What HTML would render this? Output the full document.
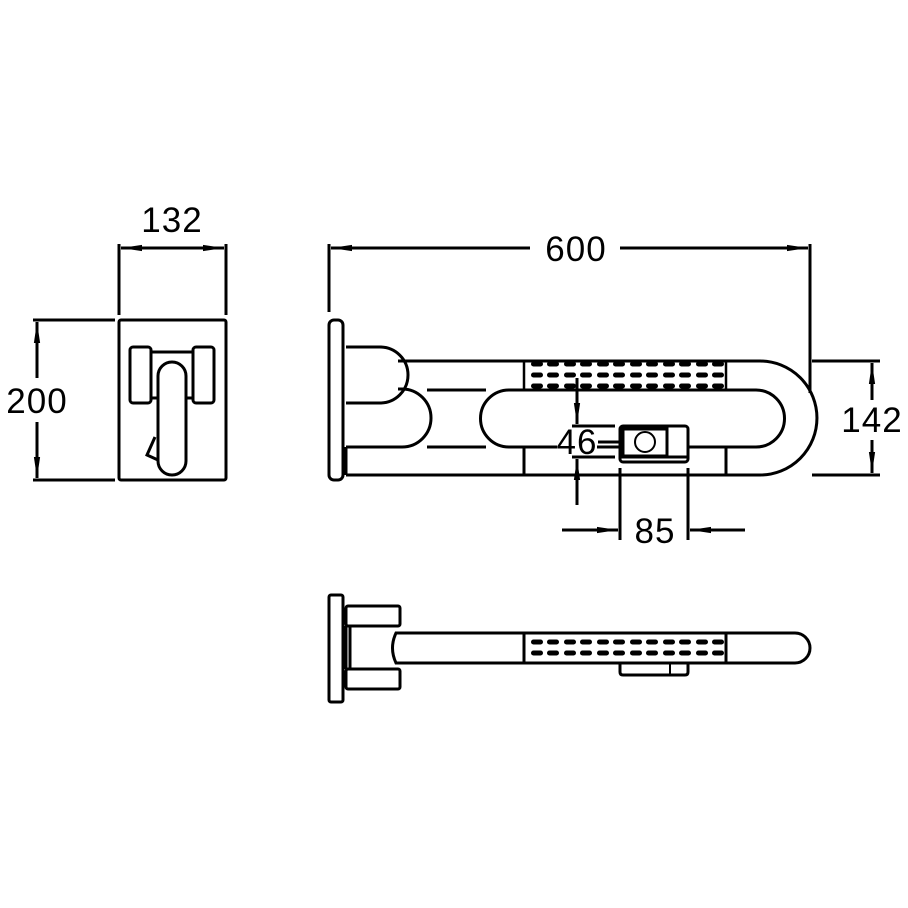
<!DOCTYPE html>
<html><head><style>body{margin:0;background:#fff}svg{display:block}text{font-family:"Liberation Sans",sans-serif;font-size:35px;fill:#000;text-anchor:middle;letter-spacing:1px}</style></head><body>
<svg width="908" height="908" viewBox="0 0 908 908" fill="none" stroke="#000" stroke-width="3">
<defs>
<marker id="a" viewBox="0 0 10 10" refX="10" refY="5" markerWidth="7" markerHeight="2.6" preserveAspectRatio="none" orient="auto-start-reverse"><path d="M0 1L10 5L0 9z" fill="#000" stroke="none"/></marker>
<g id="dot"><rect x="-6" y="-2.5" width="12" height="5" rx="2.5" fill="#000" stroke="none"/></g>
<g id="row"><use href="#dot" x="537"/><use href="#dot" x="553"/><use href="#dot" x="570"/><use href="#dot" x="586"/><use href="#dot" x="603"/><use href="#dot" x="619"/><use href="#dot" x="636"/><use href="#dot" x="652"/><use href="#dot" x="669"/><use href="#dot" x="685"/><use href="#dot" x="702"/><use href="#dot" x="718"/></g>
</defs>
<!-- left view -->
<line x1="119" y1="244" x2="119" y2="315"/><line x1="226" y1="244" x2="226" y2="315"/>
<line x1="121" y1="248" x2="224" y2="248" marker-start="url(#a)" marker-end="url(#a)"/>
<text x="172" y="232" stroke="none">132</text>
<line x1="33" y1="320" x2="115" y2="320"/><line x1="33" y1="480" x2="115" y2="480"/>
<line x1="37" y1="322" x2="37" y2="378" marker-start="url(#a)"/>
<line x1="37" y1="422" x2="37" y2="478" marker-end="url(#a)"/>
<text x="37" y="413" stroke="none">200</text>
<rect x="119" y="320" width="107" height="160" rx="2"/>
<rect x="130" y="347" width="21" height="56" rx="3"/><rect x="193" y="347" width="21" height="56" rx="3"/>
<line x1="151" y1="352" x2="193" y2="352"/><line x1="151" y1="398" x2="159" y2="398"/><line x1="185" y1="398" x2="193" y2="398"/>
<rect x="158" y="362" width="28" height="113" rx="14" fill="#fff"/>
<path d="M155 437L147 455L158 460"/>
<!-- main view -->
<line x1="329" y1="244" x2="329" y2="312"/><line x1="810" y1="244" x2="810" y2="393"/>
<line x1="331" y1="248" x2="530" y2="248" marker-start="url(#a)"/>
<line x1="620" y1="248" x2="808" y2="248" marker-end="url(#a)"/>
<text x="576" y="261" stroke="none">600</text>
<rect x="329" y="320" width="14" height="160" rx="5"/>
<path d="M346 347H380A28 28 0 0 1 380 403H346"/>
<path d="M398 389H402A29 29 0 0 1 402 447H346"/>
<line x1="346" y1="447" x2="346" y2="475"/>
<line x1="346" y1="475" x2="760" y2="475"/>
<path d="M398 361H760A57 57 0 0 1 760 475"/>
<path d="M509 390H756A28.5 28.5 0 0 1 756 447H509A28.5 28.5 0 0 1 509 390Z"/>
<line x1="427" y1="390" x2="486" y2="390"/><line x1="427" y1="447" x2="486" y2="447"/>
<rect x="524" y="361" width="202" height="29" stroke-width="2.5"/>
<line x1="524" y1="447" x2="524" y2="475"/><line x1="726" y1="447" x2="726" y2="475"/>
<use href="#row" y="364"/><use href="#row" y="375"/><use href="#row" y="386"/>
<rect x="620" y="426" width="68" height="36" rx="3" fill="#fff"/>
<rect x="623" y="429" width="44" height="27"/>
<circle cx="645" cy="442" r="10" stroke-width="2"/>
<line x1="620" y1="457" x2="688" y2="457"/>
<line x1="577" y1="378" x2="577" y2="424" marker-end="url(#a)"/>
<line x1="577" y1="505" x2="577" y2="459" marker-end="url(#a)"/>
<line x1="572" y1="426" x2="615" y2="426"/><line x1="572" y1="457" x2="615" y2="457"/>
<line x1="598" y1="442" x2="620" y2="442"/>
<rect x="557" y="430" width="40" height="25" fill="#fff" stroke="none"/>
<text x="577" y="454" stroke="none">46</text>
<line x1="620" y1="468" x2="620" y2="540"/><line x1="688" y1="468" x2="688" y2="540"/>
<line x1="562" y1="530" x2="618" y2="530" marker-end="url(#a)"/>
<line x1="745" y1="530" x2="690" y2="530" marker-end="url(#a)"/>
<text x="655" y="543" stroke="none">85</text>
<line x1="812" y1="361" x2="880" y2="361"/><line x1="812" y1="475" x2="880" y2="475"/>
<line x1="872" y1="363" x2="872" y2="400" marker-start="url(#a)"/>
<line x1="872" y1="440" x2="872" y2="473" marker-end="url(#a)"/>
<text x="872" y="432" stroke="none">142</text>
<!-- bottom view -->
<rect x="329" y="595" width="14" height="107" rx="2"/>
<rect x="346" y="606" width="54" height="20" rx="2"/>
<rect x="346" y="669" width="54" height="20" rx="2"/>
<line x1="350" y1="626" x2="350" y2="669"/>
<line x1="346" y1="626" x2="346" y2="669"/>
<path d="M396 633H795A15 15 0 0 1 795 663H396Q389 648 396 633Z" fill="#fff"/>
<rect x="524" y="633" width="202" height="30"/>
<use href="#row" y="642"/><use href="#row" y="653"/>
<path d="M620 664V672Q620 675 623 675H685Q688 675 688 672V664"/>
<line x1="670" y1="664" x2="670" y2="674" stroke-width="2"/>
</svg>
</body></html>
